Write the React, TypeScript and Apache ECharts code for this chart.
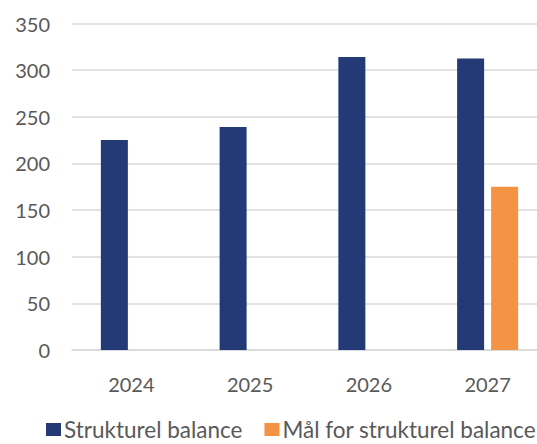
import React, { useEffect, useRef } from "react";
import * as echarts from "echarts";

const categories = ["2024", "2025", "2026", "2027"];
const strukturelBalance = [225, 239, 314, 312.5];
const maalForStrukturelBalance = [null, null, null, 175];
const yTicks = { min: 0, max: 350, interval: 50 };

export default function App() {
  const ref = useRef<HTMLDivElement>(null);
  useEffect(() => {
    document.body.style.margin = "0";
    document.body.style.overflow = "hidden";
    const chart = echarts.init(ref.current!, null, { renderer: "svg" });
    const font = "Lato, 'Noto Sans', sans-serif";
    chart.setOption({
      animation: false,
      textStyle: { fontFamily: font },
      grid: { left: 72, right: 0, top: 23.5, bottom: 94, containLabel: false },
      legend: {
        left: 46,
        top: 418,
        padding: 0,
        itemWidth: 15,
        itemHeight: 13,
        itemGap: 22,
        icon: "rect",
        textStyle: {
          fontSize: 22.5,
          color: "#595959",
          fontFamily: font,
          padding: [0, 0, 0, -2],
        },
        data: ["Strukturel balance", "Mål for strukturel balance"],
      },
      xAxis: {
        type: "category",
        data: categories,
        axisLine: { show: true, lineStyle: { color: "#d9d9d9", width: 1.5 } },
        axisTick: { show: false },
        axisLabel: { fontSize: 20, color: "#595959", margin: 24, fontFamily: font },
      },
      yAxis: {
        type: "value",
        min: yTicks.min,
        max: yTicks.max,
        interval: yTicks.interval,
        axisLine: { show: false },
        axisTick: { show: false },
        axisLabel: { fontSize: 20, color: "#595959", margin: 22, fontFamily: font },
        splitLine: { lineStyle: { color: "#d9d9d9", width: 1.5 } },
      },
      series: [
        {
          name: "Strukturel balance",
          type: "bar",
          data: strukturelBalance,
          barWidth: 27,
          barGap: "26%",
          itemStyle: { color: "#233a77" },
        },
        {
          name: "Mål for strukturel balance",
          type: "bar",
          data: maalForStrukturelBalance,
          barWidth: 27,
          barGap: "26%",
          itemStyle: { color: "#f39343" },
        },
      ],
    });
    return () => chart.dispose();
  }, []);
  return <div ref={ref} style={{ width: 547, height: 444 }} />;
}
